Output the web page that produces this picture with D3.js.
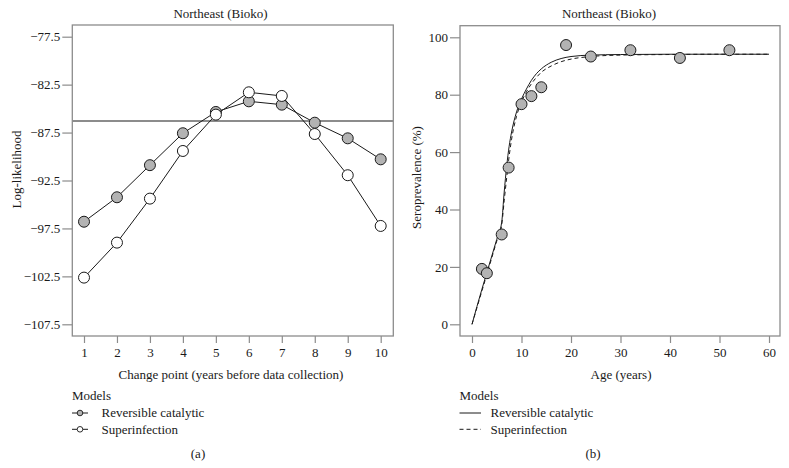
<!DOCTYPE html>
<html><head><meta charset="utf-8">
<script src="https://cdn.jsdelivr.net/npm/d3@7"></script>
<style>
html,body{margin:0;padding:0;background:#fff;}
text{font-family:"Liberation Serif","Times New Roman",serif;fill:#1a1a1a;}
</style></head>
<body><svg id="c" width="789" height="468"></svg>
<script>
// ---------- Data ----------
const changePoints = [1,2,3,4,5,6,7,8,9,10];
const llReversible = [-96.8,-94.25,-90.9,-87.57,-85.35,-84.24,-84.59,-86.47,-88.1,-90.29];
const llSuperinfection = [-102.63,-98.98,-94.39,-89.42,-85.63,-83.3,-83.68,-87.65,-91.95,-97.24];
const llThreshold = -86.3;
const llTicks = [-77.5,-82.5,-87.5,-92.5,-97.5,-102.5,-107.5];

const obsAge = [2,3,6,7.4,10,12,14,19,24,32,42,52];
const obsSero = [19.3,17.8,31.3,54.6,76.7,79.5,82.6,97.3,93.3,95.5,92.8,95.5];

const fitAge = [0,1,2,3,4,5,6,6.5,7,7.5,8,9,10,11,12,13,14,16,18,20,24,30,40,50,60];
const fitReversible = [0,6.2,12.2,18,23.8,29.6,35.6,46,55,62,67,74,78.5,82,85,87.3,89,91.3,92.6,93.3,93.8,94,94.1,94.1,94.1];
const fitSuperinfection = [0,5.8,11.6,17.4,23.2,29,34.6,43,51,58.5,64.5,72.5,77.5,81,83.8,86,87.8,90,91.5,92.4,93.3,93.8,94,94.1,94.1];

const ageTicks = [0,10,20,30,40,50,60];
const seroTicks = [0,20,40,60,80,100];
const legendLabels = ["Reversible catalytic","Superinfection"];

// ---------- Drawing ----------
const svg = d3.select("#c");
const BOX = "#8c8c8c", INK = "#1a1a1a", FILLG = "#b3b3b3";

function styleAxis(g){
  g.select(".domain").remove();
  g.selectAll(".tick line").attr("stroke", BOX).attr("stroke-width",1.2);
  g.selectAll(".tick text").style("font-size","13px").attr("fill",INK);
}

// Panel A
{
  const x = d3.scaleLinear().domain([1,10]).range([84,380.7]);
  const y = d3.scaleLinear().domain([-107.5,-77.5]).range([324.3,36.7]);
  const L=72.3,T=25,R=393.3,B=336;
  const g = svg.append("g");
  g.append("text").attr("x",220.5).attr("y",18).attr("text-anchor","middle").style("font-size","13px").text("Northeast (Bioko)");
  g.append("g").attr("transform",`translate(${L},0)`)
    .call(d3.axisLeft(y).tickValues(llTicks).tickSize(10).tickPadding(2).tickFormat(d=>d3.format(".1f")(d).replace("-","\u2212")))
    .call(styleAxis);
  g.append("g").attr("transform",`translate(0,${B})`)
    .call(d3.axisBottom(x).tickValues(changePoints).tickSize(7).tickPadding(5).tickFormat(d3.format("d")))
    .call(styleAxis);
  g.append("line").attr("x1",L).attr("x2",R).attr("y1",y(llThreshold)).attr("y2",y(llThreshold)).attr("stroke",INK).attr("stroke-width",1.1);
  const line = d3.line().x((d,i)=>x(changePoints[i])).y(d=>y(d));
  [[llReversible,FILLG],[llSuperinfection,"#fff"]].forEach(([vals,fill])=>{
    g.append("path").datum(vals).attr("d",line).attr("fill","none").attr("stroke",INK).attr("stroke-width",1);
    g.selectAll(null).data(vals).enter().append("circle")
      .attr("cx",(d,i)=>x(changePoints[i])).attr("cy",d=>y(d)).attr("r",5.5)
      .attr("fill",fill).attr("stroke",INK).attr("stroke-width",1);
  });
  g.append("rect").attr("x",L).attr("y",T).attr("width",R-L).attr("height",B-T).attr("fill","none").attr("stroke",BOX).attr("stroke-width",1.3);
  g.append("text").attr("transform","translate(21,169.5) rotate(-90)").attr("text-anchor","middle").style("font-size","13px").text("Log-likelihood");
  g.append("text").attr("x",231).attr("y",379).attr("text-anchor","middle").style("font-size","13px").text("Change point (years before data collection)");
  g.append("text").attr("x",72).attr("y",400).style("font-size","13px").text("Models");
  legendLabels.forEach((lab,i)=>{
    const yy = 413+i*16.3;
    g.append("line").attr("x1",72).attr("x2",88).attr("y1",yy).attr("y2",yy).attr("stroke",INK).attr("stroke-width",1);
    g.append("circle").attr("cx",80).attr("cy",yy).attr("r",2.8).attr("fill",i===0?FILLG:"#fff").attr("stroke",INK).attr("stroke-width",0.9);
    g.append("text").attr("x",101.5).attr("y",yy+4.3).style("font-size","13px").text(lab);
  });
  g.append("text").attr("x",198).attr("y",458).attr("text-anchor","middle").style("font-size","13px").text("(a)");
}

// Panel B
{
  const x = d3.scaleLinear().domain([0,60]).range([472,769]);
  const y = d3.scaleLinear().domain([0,100]).range([324.3,37.3]);
  const L=460,T=25.7,R=780,B=336;
  const g = svg.append("g");
  g.append("text").attr("x",609).attr("y",18).attr("text-anchor","middle").style("font-size","13px").text("Northeast (Bioko)");
  g.append("g").attr("transform",`translate(${L},0)`)
    .call(d3.axisLeft(y).tickValues(seroTicks).tickSize(10).tickPadding(2).tickFormat(d3.format("d")))
    .call(styleAxis);
  g.append("g").attr("transform",`translate(0,${B})`)
    .call(d3.axisBottom(x).tickValues(ageTicks).tickSize(7).tickPadding(5).tickFormat(d3.format("d")))
    .call(styleAxis);
  const mk = vals => d3.line().x((d,i)=>x(fitAge[i])).y(d=>y(d)).curve(d3.curveMonotoneX)(vals);
  g.append("path").attr("d",mk(fitSuperinfection)).attr("fill","none").attr("stroke",INK).attr("stroke-width",1).attr("stroke-dasharray","4,3");
  g.append("path").attr("d",mk(fitReversible)).attr("fill","none").attr("stroke",INK).attr("stroke-width",1);
  g.selectAll(null).data(obsSero).enter().append("circle")
    .attr("cx",(d,i)=>x(obsAge[i])).attr("cy",d=>y(d)).attr("r",5.5)
    .attr("fill",FILLG).attr("stroke",INK).attr("stroke-width",1);
  g.append("rect").attr("x",L).attr("y",T).attr("width",R-L).attr("height",B-T).attr("fill","none").attr("stroke",BOX).attr("stroke-width",1.3);
  g.append("text").attr("transform","translate(421,177.5) rotate(-90)").attr("text-anchor","middle").style("font-size","13px").text("Seroprevalence (%)");
  g.append("text").attr("x",621).attr("y",379).attr("text-anchor","middle").style("font-size","13px").text("Age (years)");
  g.append("text").attr("x",459.5).attr("y",400).style("font-size","13px").text("Models");
  legendLabels.forEach((lab,i)=>{
    const yy = 413+i*16.3;
    g.append("line").attr("x1",459.5).attr("x2",481).attr("y1",yy).attr("y2",yy).attr("stroke",INK).attr("stroke-width",1)
      .attr("stroke-dasharray",i===1?"4,3":null);
    g.append("text").attr("x",490.5).attr("y",yy+4.3).style("font-size","13px").text(lab);
  });
  g.append("text").attr("x",593).attr("y",458).attr("text-anchor","middle").style("font-size","13px").text("(b)");
}
</script></body></html>
